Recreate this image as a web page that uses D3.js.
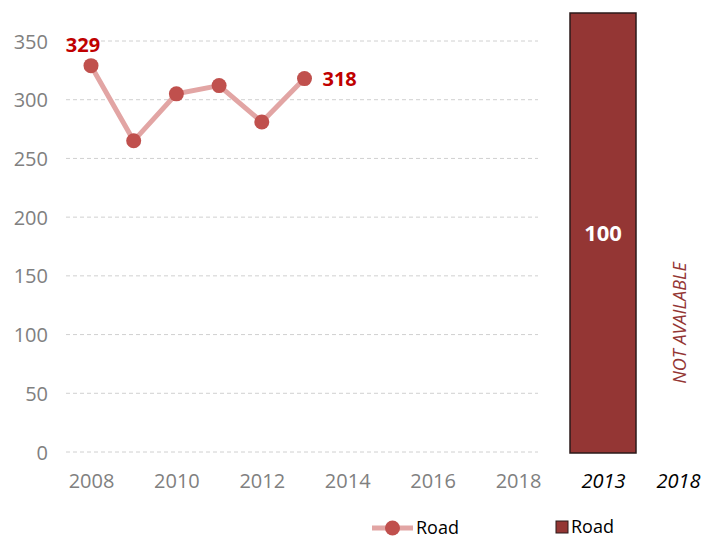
<!DOCTYPE html>
<html><head><meta charset="utf-8">
<script src="https://cdn.jsdelivr.net/npm/d3@7/dist/d3.min.js"></script>
<style>body{margin:0;background:#fff;} text{font-family:"Open Sans",sans-serif;}</style>
</head><body>
<svg id="c" width="705" height="541"></svg>
<script>
const years = [2008, 2009, 2010, 2011, 2012, 2013];
const roadValues = [329, 265, 305, 312, 281, 318];
const yTicks = [0, 50, 100, 150, 200, 250, 300, 350];
const xTicks = [2008, 2010, 2012, 2014, 2016, 2018];
const barCategories = ["2013", "2018"];
const barValues = [100, null];
const seriesName = "Road";

const svg = d3.select("#c");
const x = d3.scaleLinear().domain([2008, 2018]).range([91, 518]);
const y = d3.scaleLinear().domain([0, 350]).range([452, 41]);

// grid
const gridG = svg.append("g");
gridG.selectAll("line").data(yTicks).join("line")
  .attr("x1", 66).attr("x2", 538)
  .attr("y1", d => y(d)).attr("y2", d => y(d))
  .attr("stroke", "#d0d0d0").attr("stroke-width", 1).attr("stroke-dasharray", "4,3");

// y axis labels
const yAxis = d3.axisLeft(y).tickValues(yTicks).tickSize(0).tickPadding(0);
const yg = svg.append("g").attr("transform", "translate(48,0)").call(yAxis);
yg.select(".domain").remove();
yg.selectAll("text").attr("fill", "#808080").style("font-size", "20px").style("font-family", "Open Sans").attr("dy", "0.35em");

// x axis labels
const xAxis = d3.axisBottom(x).tickValues(xTicks).tickFormat(d3.format("d")).tickSize(0).tickPadding(0);
const xg = svg.append("g").attr("transform", "translate(0,474)").call(xAxis);
xg.select(".domain").remove();
xg.selectAll("text").attr("fill", "#808080").style("font-size", "20px").style("font-family", "Open Sans");

// line
const data = years.map((yr, i) => ({yr, v: roadValues[i]}));
svg.append("path").datum(data)
  .attr("d", d3.line().x(d => x(d.yr)).y(d => y(d.v)))
  .attr("fill", "none").attr("stroke", "#e2a5a4").attr("stroke-width", 5);
svg.selectAll("circle.pt").data(data).join("circle").attr("class", "pt")
  .attr("cx", d => x(d.yr)).attr("cy", d => y(d.v)).attr("r", 7.5)
  .attr("fill", "#c0504d");

// labels first & last
const first = data[0], last = data[data.length - 1];
svg.append("text").attr("x", x(first.yr) - 8).attr("y", y(first.v) - 14)
  .attr("text-anchor", "middle").attr("fill", "#c00000").style("font-weight", "bold").style("font-size", "20px").text(first.v);
svg.append("text").attr("x", x(last.yr) + 18).attr("y", y(last.v)).attr("dy", "0.35em")
  .attr("text-anchor", "start").attr("fill", "#c00000").style("font-weight", "bold").style("font-size", "20px").text(last.v);

// bar panel
const xb = d3.scalePoint().domain(barCategories).range([603, 678]);
const barW = 66;
const yb = d3.scaleLinear().domain([0, 100]).range([453, 13]);
barCategories.forEach((c, i) => {
  const v = barValues[i];
  const cx = xb(c);
  if (v != null) {
    svg.append("rect").attr("x", cx - barW / 2).attr("y", yb(v)).attr("width", barW).attr("height", yb(0) - yb(v))
      .attr("fill", "#943634").attr("stroke", "#2b1a1a").attr("stroke-width", 1.5);
    svg.append("text").attr("x", cx).attr("y", (yb(v) + yb(0)) / 2).attr("dy", "0.35em")
      .attr("text-anchor", "middle").attr("fill", "#fff").style("font-weight", "bold").style("font-size", "22px").text(v);
  } else {
    svg.append("text").attr("transform", `translate(${cx + 2},323) rotate(-90)`).attr("dy", "0.35em")
      .attr("text-anchor", "middle").attr("fill", "#943634").style("font-style", "italic").style("font-size", "18px").text("NOT AVAILABLE");
  }
});
const xbAxis = d3.axisBottom(xb).tickSize(0).tickPadding(0);
const xbg = svg.append("g").attr("transform", "translate(0,474)").call(xbAxis);
xbg.select(".domain").remove();
xbg.selectAll("text").attr("fill", "#000").style("font-size", "20px").style("font-style", "italic").style("font-family", "Open Sans");

// legends
const lg = svg.append("g").attr("transform", "translate(372,528)");
lg.append("line").attr("x1", 0).attr("x2", 41).attr("y1", 0).attr("y2", 0).attr("stroke", "#e2a5a4").attr("stroke-width", 5);
lg.append("circle").attr("cx", 20.5).attr("cy", 0).attr("r", 7.5).attr("fill", "#c0504d");
lg.append("text").attr("x", 44).attr("y", 0).attr("dy", "0.35em").attr("fill", "#000").style("font-size", "18px").text(seriesName);

const bg = svg.append("g").attr("transform", "translate(556,527)");
bg.append("rect").attr("x", 0).attr("y", -6).attr("width", 12).attr("height", 12).attr("fill", "#943634").attr("stroke", "#2b1a1a").attr("stroke-width", 1);
bg.append("text").attr("x", 15).attr("y", 0).attr("dy", "0.35em").attr("fill", "#000").style("font-size", "18px").text(seriesName);
</script>
</body></html>
